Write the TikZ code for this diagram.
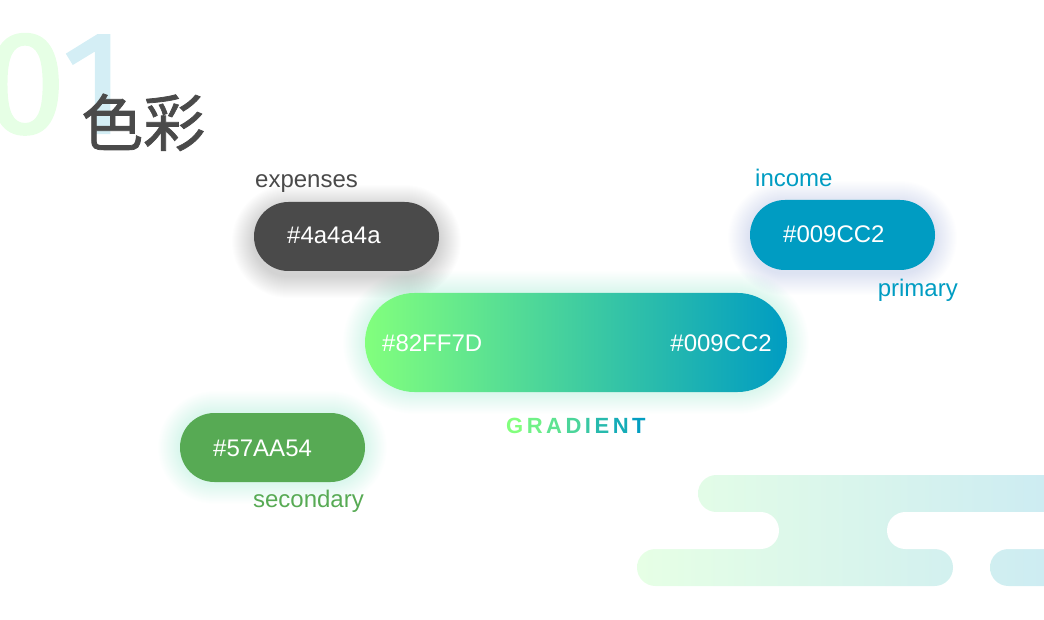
\documentclass[tikz,border=0pt]{standalone}
\usepackage{fontspec}
\usepackage{tikz}
\setmainfont{Liberation Sans}
\newfontfamily\cjk{Noto Sans CJK SC}[FakeBold=1.2]
\newfontfamily\numfont{Fira Sans}[FakeBold=1.5]

\definecolor{darkgrey}{HTML}{4A4A4A}
\definecolor{primary}{HTML}{009CC2}
\definecolor{secondary}{HTML}{57AA54}
\definecolor{lightgreen}{HTML}{82FF7D}
\definecolor{haze}{RGB}{60,90,180}
\definecolor{mint}{RGB}{40,205,150}

\tikzset{
  lbl/.style={inner sep=0, anchor=base west, font=\fontsize{24}{28}\selectfont},
  hex/.style={lbl, text=white},
  pill/.style={rounded corners=#1},
  bignum/.style={inner sep=0, font=\numfont\fontsize{146}{146}\selectfont}
}

\begin{document}
\begin{tikzpicture}[x=1pt, y=-1pt]
    \useasboundingbox (0,0) rectangle (1044,620);
    % big number and title
    \node[bignum, anchor=base east, text=lightgreen!20] (zero) at (66,133) {0};
    \node[bignum, anchor=base west, text=primary!17] (one) at (62,133) {1};
    \node[inner sep=0, anchor=base west, text=darkgrey, font=\cjk\fontsize{62}{62}\selectfont] (title) at (81,146) {色彩};

    % soft glows
    \foreach \xa/\ya/\xb/\yb/\gc/\dy in {254/202/439/271/black/5, 750/200/935/270/haze/3,
                                          365/293/787/392/mint/0, 180/413/365/482/mint/0}
             {
               \foreach \r in {1,...,22}
                 \fill[\gc, opacity=0.007, pill={(\yb-\ya)/2+\r-0.1}] (\xa-\r,\ya-\r+\dy) rectangle (\xb+\r,\yb+\r+\dy);
             }

    \fill[darkgrey, pill=34.4] (254,202) rectangle (439,271);
    \fill[primary, pill=34.9] (750,200) rectangle (935,270);
    \fill[secondary, pill=34.4] (180,413) rectangle (365,482);
    \shade[left color=lightgreen, right color=primary, pill=49.4] (365,293) rectangle (787,392);

    \node[lbl, text=darkgrey] (expenses) at (255,188) {expenses};
    \node[hex] (dark) at (287,244) {\#4a4a4a};
    \node[lbl, text=primary] (income) at (755,187) {income};
    \node[hex] (blue) at (783,243) {\#009CC2};
    \node[lbl, text=primary, anchor=base east] (primarylbl) at (958,297) {primary};
    \node[hex] (green) at (213,456) {\#57AA54};
    \node[lbl, text=secondary, anchor=base east] (secondarylbl) at (364,507) {secondary};
    \node[hex] (from) at (382,351) {\#82FF7D};
    \node[hex, anchor=base east] (to) at (772,351) {\#009CC2};
    \node[lbl, font=\bfseries\fontsize{22}{26}\selectfont] (gradient) at (506,433)
         {\foreach \l [count=\i] in {G,R,A,D,I,E,N,T}{\pgfmathtruncatemacro\p{100-(\i-1)*14}\textcolor{lightgreen!\p!primary}{\l}\kern3.5pt}};

    % background bands
    \foreach \xa/\ya/\xb/\yb in {698/475/1064/512, 637/549/953/586, 990/549/1064/586, 740/505/910/556}
             {
               \begin{scope}
                 \clip[pill=18.4] (\xa,\ya) rectangle (\xb,\yb);
                 \shade[left color=lightgreen!20, right color=primary!20] (637,475) rectangle (1064,586);
               \end{scope}
             }
    \fill[white, pill=18.4] (600,512) rectangle (779,549);
    \fill[white, pill=18.4] (887,512) rectangle (1080,549);

  \end{tikzpicture}
\end{document}
